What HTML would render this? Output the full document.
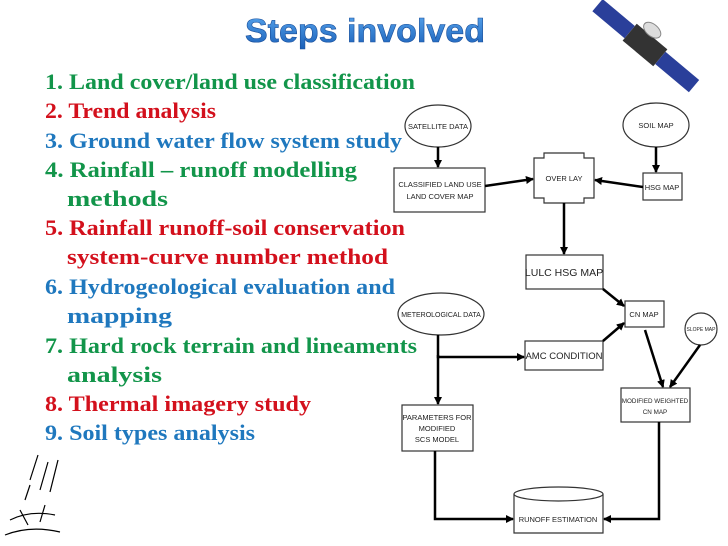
<!DOCTYPE html>
<html><head><meta charset="utf-8"><style>
body{margin:0;background:#fff;}
svg{display:block}
.l{font-family:"Liberation Serif",serif;font-weight:bold;font-size:22px}
.g{fill:#12954a}.r{fill:#d3101c}.b{fill:#1f78be}
.d{font-family:"Liberation Sans",sans-serif;font-size:7.5px;fill:#222}
</style></head><body>
<svg width="728" height="546" viewBox="0 0 728 546">
<defs>
<linearGradient id="tg" x1="0" y1="0" x2="0" y2="1"><stop offset="0" stop-color="#5aa8f0"/><stop offset="1" stop-color="#1a5fb8"/></linearGradient>
<marker id="a" markerWidth="8" markerHeight="8" refX="7" refY="4" orient="auto" markerUnits="userSpaceOnUse"><path d="M0,0 L8,4 L0,8 z" fill="#000"/></marker>
</defs>
<text x="365" y="42" text-anchor="middle" textLength="240" lengthAdjust="spacingAndGlyphs" font-family="Liberation Sans,sans-serif" font-weight="bold" font-size="33" fill="url(#tg)" stroke="#1a4f9a" stroke-width="0.6">Steps involved</text>
<!-- satellite -->
<g transform="translate(645,45) rotate(40)">
<rect x="-62" y="-8" width="42" height="16" fill="#2a3f9a"/>
<rect x="20" y="-8" width="44" height="16" fill="#2a3f9a"/>
<rect x="-20" y="-11" width="40" height="22" fill="#333"/>
<ellipse cx="-4" cy="-16" rx="10" ry="6" fill="#ddd" stroke="#888"/>
</g>
<!-- list -->
<g class="l">
<text x="45" y="89" class="g" textLength="370" lengthAdjust="spacingAndGlyphs">1. Land cover/land use classification</text>
<text x="45" y="118" class="r" textLength="171" lengthAdjust="spacingAndGlyphs">2. Trend analysis</text>
<text x="45" y="148" class="b" textLength="357" lengthAdjust="spacingAndGlyphs">3. Ground water flow system study</text>
<text x="45" y="177" class="g" textLength="312" lengthAdjust="spacingAndGlyphs">4. Rainfall – runoff  modelling</text>
<text x="67" y="206" class="g" textLength="101" lengthAdjust="spacingAndGlyphs">methods</text>
<text x="45" y="235" class="r" textLength="360" lengthAdjust="spacingAndGlyphs">5. Rainfall runoff-soil conservation</text>
<text x="67" y="264" class="r" textLength="321" lengthAdjust="spacingAndGlyphs">system-curve number method</text>
<text x="45" y="294" class="b" textLength="350" lengthAdjust="spacingAndGlyphs">6. Hydrogeological evaluation and</text>
<text x="67" y="323" class="b" textLength="105" lengthAdjust="spacingAndGlyphs">mapping</text>
<text x="45" y="353" class="g" textLength="372" lengthAdjust="spacingAndGlyphs">7. Hard rock terrain and lineaments</text>
<text x="67" y="382" class="g" textLength="95" lengthAdjust="spacingAndGlyphs">analysis</text>
<text x="45" y="411" class="r" textLength="266" lengthAdjust="spacingAndGlyphs">8. Thermal imagery study</text>
<text x="45" y="440" class="b" textLength="210" lengthAdjust="spacingAndGlyphs">9. Soil types analysis</text>
</g>
<!-- diagram -->
<g fill="#fff" stroke="#333" stroke-width="1.2">
<ellipse cx="438" cy="126" rx="33" ry="21"/>
<rect x="394" y="168" width="91" height="44"/>
<path d="M544,153 H584 V158 H594 V198 H584 V203 H544 V198 H534 V158 H544 Z"/>
<ellipse cx="656" cy="125" rx="33" ry="22"/>
<rect x="643" y="173" width="39" height="27"/>
<rect x="526" y="255" width="77" height="34"/>
<rect x="625" y="301" width="39" height="26"/>
<ellipse cx="441" cy="314" rx="43" ry="21"/>
<rect x="525" y="341" width="78" height="29"/>
<circle cx="701" cy="329" r="16"/>
<rect x="621" y="388" width="69" height="34"/>
<rect x="402" y="405" width="71" height="46"/>
<path d="M514,494 V533 H603 V494"/>
<ellipse cx="558.5" cy="494" rx="44.5" ry="7"/>
</g>
<g stroke="#000" stroke-width="2.5" fill="none" marker-end="url(#a)">
<line x1="438" y1="147" x2="438" y2="167"/>
<line x1="656" y1="147" x2="656" y2="172"/>
<line x1="485" y1="186" x2="533" y2="179"/>
<line x1="643" y1="187" x2="595" y2="180"/>
<line x1="564" y1="203" x2="564" y2="254"/>
<line x1="603" y1="289" x2="624" y2="306"/>
<line x1="603" y1="341" x2="624" y2="323"/>
<line x1="645" y1="330" x2="663" y2="387"/>
<line x1="700" y1="345" x2="670" y2="387"/>
<polyline points="438,335 438,357 524,357"/>
<line x1="438" y1="355" x2="438" y2="404"/>
<polyline points="435,451 435,519 513,519"/>
<polyline points="659,422 659,519 604,519"/>
</g>
<g class="d" text-anchor="middle">
<text x="438" y="129">SATELLITE DATA</text>
<text x="440" y="187">CLASSIFIED LAND USE</text>
<text x="440" y="199">LAND COVER MAP</text>
<text x="564" y="181">OVER LAY</text>
<text x="656" y="128">SOIL MAP</text>
<text x="662" y="190">HSG MAP</text>
<text x="564" y="276" font-size="10.5">LULC HSG MAP</text>
<text x="644" y="317">CN MAP</text>
<text x="441" y="317" font-size="7">METEROLOGICAL DATA</text>
<text x="564" y="359" font-size="9.5">AMC CONDITION</text>
<text x="701" y="331" font-size="5">SLOPE MAP</text>
<text x="655" y="403" font-size="6.3">MODIFIED WEIGHTED</text>
<text x="655" y="414" font-size="6.3">CN MAP</text>
<text x="437" y="420">PARAMETERS FOR</text>
<text x="437" y="431">MODIFIED</text>
<text x="437" y="442">SCS MODEL</text>
<text x="558" y="522">RUNOFF ESTIMATION</text>
</g>
<!-- rain sketch -->
<g stroke="#000" stroke-width="1.2" fill="none">
<line x1="38" y1="455" x2="30" y2="480"/><line x1="48" y1="462" x2="40" y2="490"/>
<line x1="58" y1="460" x2="50" y2="492"/><line x1="30" y1="485" x2="25" y2="500"/>
<path d="M10,520 Q30,510 55,515 M5,535 Q30,525 60,532 M20,510 L28,525 M45,505 L40,522"/>
</g>
</svg>
</body></html>
